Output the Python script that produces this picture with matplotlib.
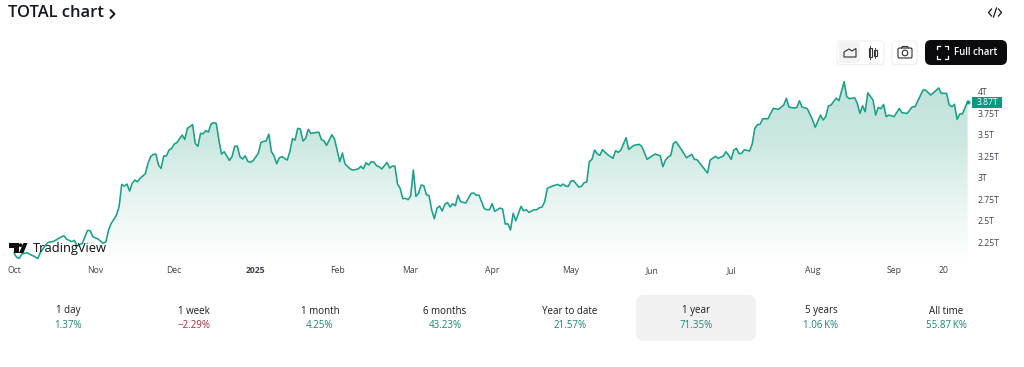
#!/usr/bin/env python3
# -*- coding: utf-8 -*-
"""TOTAL crypto market cap, one year area chart with the performance strip below."""

import numpy as np
import matplotlib
matplotlib.use('Agg')
import matplotlib.pyplot as plt
from matplotlib.colors import LinearSegmentedColormap
from matplotlib.patches import FancyBboxPatch, Circle, Polygon, Rectangle

plt.rcParams['font.family'] = ['Open Sans', 'DejaVu Sans']

# days since 2024-10-01
DAYS = [0, 1, 2, 3, 5, 6, 8, 9, 10, 12, 13, 15, 16, 17, 19, 20, 22, 23, 24, 26, 27, 28, 29, 30, 32, 34, 35, 36, 37,
        38, 39, 40, 41, 42, 43, 44, 45, 46, 47, 48, 50, 51, 52, 53, 54, 55, 56, 57, 58, 59, 60, 61, 62, 64, 65, 66,
        68, 69, 70, 71, 72, 73, 74, 75, 76, 77, 78, 79, 80, 82, 83, 84, 85, 86, 87, 88, 89, 90, 91, 93, 94, 95, 96,
        97, 98, 99, 100, 101, 102, 104, 105, 106, 107, 108, 109, 110, 111, 112, 113, 116, 117, 118, 119, 121, 122,
        123, 124, 125, 126, 128, 129, 131, 132, 133, 134, 135, 136, 137, 138, 139, 140, 142, 143, 144, 145, 146,
        147, 148, 149, 150, 151, 152, 153, 154, 155, 156, 157, 158, 159, 160, 161, 162, 163, 164, 165, 166, 167,
        168, 169, 170, 172, 174, 175, 176, 177, 179, 180, 181, 182, 183, 185, 186, 187, 188, 189, 190, 191, 193,
        194, 195, 196, 198, 199, 200, 201, 202, 203, 205, 207, 208, 209, 210, 211, 212, 213, 215, 216, 217, 218,
        219, 220, 221, 222, 223, 224, 226, 228, 229, 230, 231, 233, 234, 236, 238, 239, 241, 244, 246, 247, 248,
        249, 250, 251, 252, 254, 256, 258, 259, 260, 264, 265, 267, 268, 270, 271, 272, 273, 274, 275, 276, 277,
        278, 280, 281, 282, 283, 284, 285, 287, 289, 291, 293, 294, 295, 297, 298, 299, 300, 302, 304, 305, 307,
        308, 309, 310, 311, 313, 314, 316, 317, 318, 320, 321, 322, 323, 324, 325, 327, 328, 329, 330, 331, 332,
        333, 335, 337, 338, 340, 342, 343, 346, 347, 349, 352, 353, 355, 356, 357, 358, 359, 360, 361, 363]

# market cap, trillions of USD
TOTAL_T = [2.129, 2.075, 2.064, 2.114, 2.129, 2.110, 2.083, 2.060, 2.129, 2.218, 2.249, 2.261, 2.277, 2.296, 2.327,
           2.288, 2.257, 2.273, 2.207, 2.238, 2.315, 2.389, 2.385, 2.315, 2.288, 2.238, 2.257, 2.393, 2.470,
           2.517, 2.567, 2.664, 2.923, 2.904, 2.927, 2.846, 2.935, 2.974, 2.954, 2.993, 3.047, 3.167, 3.245, 3.272,
           3.276, 3.148, 3.109, 3.253, 3.253, 3.322, 3.342, 3.392, 3.408, 3.497, 3.446, 3.574,
           3.617, 3.400, 3.365, 3.516, 3.512, 3.547, 3.531, 3.624, 3.640, 3.632, 3.438, 3.276, 3.303, 3.202, 3.245,
           3.365, 3.369, 3.245, 3.218, 3.256, 3.191, 3.179, 3.198, 3.284, 3.411, 3.423, 3.427,
           3.508, 3.303, 3.253, 3.163, 3.233, 3.245, 3.206, 3.303, 3.454, 3.438, 3.574, 3.566, 3.427, 3.458, 3.562,
           3.516, 3.531, 3.446, 3.427, 3.377, 3.500, 3.450,
           3.322, 3.187, 3.287, 3.160, 3.102, 3.090, 3.102, 3.133, 3.105, 3.175, 3.148, 3.187, 3.183, 3.140, 3.129,
           3.102, 3.179, 3.113, 3.136, 3.136, 2.927,
           2.877, 2.757, 2.761, 2.745, 2.788, 3.090, 2.784, 2.819, 2.916, 2.908, 2.803, 2.792, 2.625, 2.524, 2.645,
           2.672, 2.614, 2.691, 2.714, 2.660, 2.699,
           2.675, 2.796, 2.722, 2.707, 2.819, 2.823, 2.796, 2.799, 2.641, 2.629, 2.629, 2.699, 2.610, 2.648, 2.637,
           2.462, 2.466, 2.393, 2.586, 2.501, 2.668,
           2.617, 2.629, 2.598, 2.629, 2.629, 2.652, 2.660, 2.722, 2.877, 2.904, 2.923, 2.904, 2.927, 2.904, 2.900,
           2.962, 2.966, 2.892, 2.900, 2.943, 2.950,
           3.187, 3.214, 3.322, 3.280, 3.260, 3.326, 3.268, 3.226, 3.315, 3.295, 3.322, 3.466, 3.330, 3.377, 3.388,
           3.365, 3.214, 3.276, 3.256, 3.129, 3.206,
           3.241, 3.260, 3.400, 3.419, 3.330, 3.233, 3.272, 3.214, 3.210, 3.055, 3.206, 3.249, 3.226, 3.253, 3.303,
           3.264, 3.214, 3.322, 3.342, 3.280, 3.284,
           3.326, 3.311, 3.392, 3.574, 3.617, 3.621, 3.686, 3.686, 3.806, 3.795, 3.845, 3.923, 3.822, 3.810, 3.818,
           3.895, 3.822, 3.803, 3.671, 3.586, 3.729,
           3.671, 3.710, 3.834, 3.845, 3.926, 3.895, 4.116, 3.942, 3.919, 3.930, 3.865, 3.748, 3.837, 3.768, 3.988,
           3.903, 3.729, 3.818, 3.803, 3.853, 3.710,
           3.729, 3.710, 3.806, 3.756, 3.748, 3.826, 3.826, 4.019, 4.019, 3.961, 4.043, 3.981, 3.981, 3.845, 3.826,
           3.853, 3.679, 3.741, 3.741, 3.884]

X_TICK_DAYS = [0, 31, 61, 92, 123, 151, 182, 212, 243, 273, 304, 335, 354]
X_TICK_LABELS = ['Oct', 'Nov', 'Dec', '2025', 'Feb', 'Mar', 'Apr', 'May', 'Jun', 'Jul', 'Aug', 'Sep', '20']
Y_TICKS = [2.25, 2.5, 2.75, 3, 3.25, 3.5, 3.75, 4]
Y_TICK_LABELS = ['2.25T', '2.5T', '2.75T', '3T', '3.25T', '3.5T', '3.75T', '4T']
LAST_LABEL = '3.87T'

PERIODS = ['1 day', '1 week', '1 month', '6 months', 'Year to date', '1 year', '5 years', 'All time']
CHANGES = ['1.37%', '\u22122.29%', '4.25%', '43.23%', '21.57%', '71.35%', '1.06\u2009K%', '55.87\u2009K%']
PERIOD_CENTERS = [68, 194, 320, 445, 570, 696, 821, 946]

TEAL = '#089981'
GREEN_TEXT = '#1c8573'
RED_TEXT = '#b22a3e'
DARK = '#131722'
GREY = '#3f424b'

W, H = 1024, 367
fig = plt.figure(figsize=(W / 100, H / 100), dpi=100, facecolor='white')


def px_axes(left, top, right, bottom):
    return fig.add_axes([left / W, 1 - bottom / H, (right - left) / W, (bottom - top) / H])


# chart area, scales fixed from the tick positions in the picture
ax = px_axes(0, 70, 968, 262)
PX_PER_DAY = 2.627
PX_PER_T = 86.07
ax.set_xlim(-14 / PX_PER_DAY, (968 - 14) / PX_PER_DAY)
ax.set_ylim(4 - (262 - 91.7) / PX_PER_T, 4 - (70 - 91.7) / PX_PER_T)
for s in ax.spines.values():
    s.set_visible(False)
ax.patch.set_alpha(0)

days = np.array(DAYS)
total = np.array(TOTAL_T)
y0, y1 = ax.get_ylim()

# vertical gradient under the line, clipped to the area
cmap = LinearSegmentedColormap.from_list('area', ['#ffffff', '#e9f5f2', '#cbe8e1', '#bfe2da'])
grad = np.linspace(0, 1, 256).reshape(-1, 1)
img = ax.imshow(grad, origin='lower', aspect='auto', cmap=cmap, zorder=1,
                extent=[days[0], days[-1], y0, 4.12])
area = ax.fill_between(days, total, y0, facecolor='none', edgecolor='none')
img.set_clip_path(area.get_paths()[0], transform=ax.transData)
ax.set_xlim(-14 / PX_PER_DAY, (968 - 14) / PX_PER_DAY)
ax.set_ylim(y0, y1)

ax.plot(days, total, color=TEAL, lw=1.15, zorder=3, solid_joinstyle='round', clip_on=False, alpha=0.92)
ax.scatter(days[-1:], total[-1:], s=14, color=TEAL, alpha=0.35, zorder=4, linewidths=0, clip_on=False)
ax.scatter(days[-1:], total[-1:], s=5, color=TEAL, zorder=5, linewidths=0, clip_on=False)

ax.set_xticks(X_TICK_DAYS)
ax.set_xticklabels(X_TICK_LABELS, fontsize=6.2, color=GREY)
ax.get_xticklabels()[3].set_fontweight('bold')
ax.yaxis.tick_right()
ax.set_yticks(Y_TICKS)
ax.set_yticklabels(Y_TICK_LABELS, fontsize=6.2, color=GREY)
ax.tick_params(axis='x', length=0, pad=3)
ax.tick_params(axis='y', length=0, pad=7.2)

# page furniture, drawn in pixel coordinates
ui = fig.add_axes([0, 0, 1, 1], zorder=10)
ui.set_xlim(0, W)
ui.set_ylim(H, 0)
ui.axis('off')
ui.patch.set_alpha(0)


def rbox(x0, y0_, x1, y1_, r, **kw):
    ui.add_patch(FancyBboxPatch((x0 + r, y0_ + r), x1 - x0 - 2 * r, y1_ - y0_ - 2 * r,
                                boxstyle=f'round,pad={r},rounding_size={r}', **kw))


# title and embed icon
ui.text(8, 13, 'TOTAL chart', fontsize=11.9, fontweight='semibold', color=DARK, va='center', ha='left')
ui.plot([110.5, 114.5, 110.5], [10, 14, 18], color=DARK, lw=1.4, solid_capstyle='round')
ui.plot([991.5, 988.5, 991.5], [9, 12.5, 16], color=DARK, lw=0.9)
ui.plot([998.5, 1001.5, 998.5], [9, 12.5, 16], color=DARK, lw=0.9)
ui.plot([993.5, 996.5], [17, 8], color=DARK, lw=0.9)

# chart style buttons
rbox(837, 41, 884, 64.5, 4, fc='white', ec='#f0f0f0', lw=0.8)
rbox(839, 42, 860, 63, 3, fc='#f2f2f2', ec='none')
ui.add_patch(Polygon([(844, 57), (844, 52), (849, 49), (852, 51), (856, 48.5), (856, 57)],
                     closed=True, fc='none', ec='#2e2e2e', lw=0.8))
ui.plot([870, 870], [46, 59], color='#444444', lw=0.7)
ui.add_patch(Rectangle((868.5, 48), 3, 9, fc='white', ec='#333333', lw=0.8))
ui.plot([875, 875], [48, 58], color='#444444', lw=0.7)
ui.add_patch(Rectangle((873.5, 50), 3, 6, fc='white', ec='#333333', lw=0.8))
rbox(892, 41, 917, 64.5, 4, fc='white', ec='#f0f0f0', lw=0.8)
rbox(898, 48, 912, 58, 1.5, fc='none', ec='#2e2e2e', lw=0.8)
ui.add_patch(Circle((905, 53), 2.8, fc='none', ec='#2e2e2e', lw=0.8))
ui.plot([901.5, 902.5, 907.5, 908.5], [48, 46.5, 46.5, 48], color='#2e2e2e', lw=0.8)
rbox(925, 40, 1007, 65, 6, fc='#0b0b0d', ec='none')
for cx, cy, dx, dy in [(937, 46, 1, 1), (948, 46, -1, 1), (937, 59, 1, -1), (948, 59, -1, -1)]:
    ui.plot([cx + 3 * dx, cx, cx], [cy, cy, cy + 3 * dy], color='white', lw=0.9)
ui.text(975.5, 52.8, 'Full chart', fontsize=6.9, fontweight='semibold', color='white', ha='center', va='center')

# last price tag
ui.add_patch(Rectangle((972, 97), 30, 11, fc=TEAL, ec='none'))
ui.text(987.5, 102.6, LAST_LABEL, fontsize=6.2, color='white', ha='center', va='center')

# TradingView watermark
ui.add_patch(Polygon([(9, 243), (18.5, 243), (18.5, 253), (14, 253), (14, 247.5), (9, 247.5)], closed=True, fc='#0f0f0f'))
ui.add_patch(Circle((20.6, 245.2), 1.9, fc='#0f0f0f'))
ui.add_patch(Polygon([(23.5, 243), (27.5, 243), (23.5, 253), (19, 253)], closed=True, fc='#0f0f0f'))
ui.text(33, 248.3, 'TradingView', fontsize=9.3, fontweight='medium', color='#0f0f0f', ha='left', va='center')

# performance strip
rbox(636, 295, 756, 341, 8, fc='#f1f1f1', ec='none')
for cx, period, change in zip(PERIOD_CENTERS, PERIODS, CHANGES):
    ui.text(cx, 311, period, fontsize=7, color='#1c1c1c', ha='center', va='center')
    col = RED_TEXT if change.startswith('\u2212') else GREEN_TEXT
    ui.text(cx, 326, change, fontsize=7, color=col, ha='center', va='center')

fig.savefig('out.png', dpi=100, facecolor='white')
